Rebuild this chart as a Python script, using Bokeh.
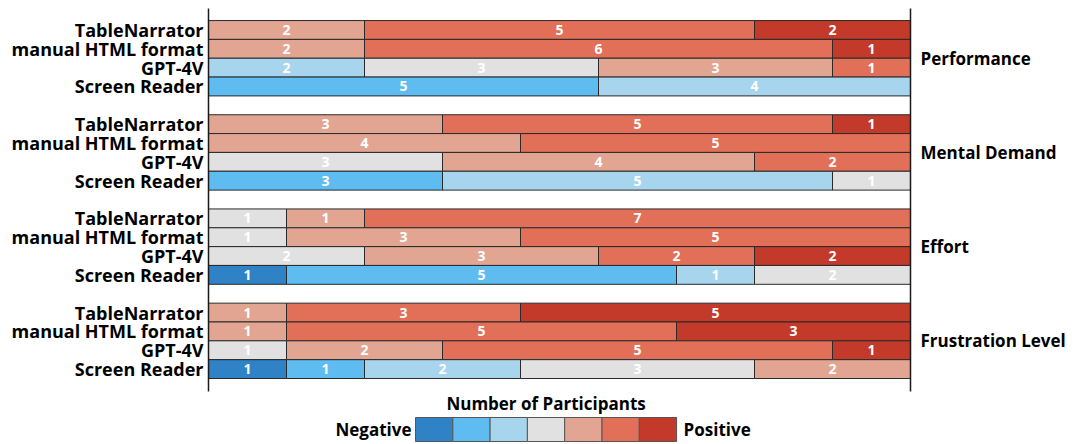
from bokeh.plotting import figure
from bokeh.models import Range1d, FixedTicker, LinearAxis, ColumnDataSource
from bokeh.layouts import column
from bokeh.core.properties import value
from bokeh.embed import file_html
from bokeh.resources import INLINE

methods = ["TableNarrator", "manual HTML format", "GPT-4V", "Screen Reader"]
metrics = ["Performance", "Mental Demand", "Effort", "Frustration Level"]
palette = ["#2e82c5", "#5ebcf0", "#a8d5ee", "#e1e1e1", "#e2a592", "#e26f58", "#c3392a"]

# counts per Likert level (negative -> positive), rows in methods order
performance = [[0, 0, 0, 0, 2, 5, 2],
               [0, 0, 0, 0, 2, 6, 1],
               [0, 0, 2, 3, 3, 1, 0],
               [0, 5, 4, 0, 0, 0, 0]]
mental_demand = [[0, 0, 0, 0, 3, 5, 1],
                 [0, 0, 0, 0, 4, 5, 0],
                 [0, 0, 0, 3, 4, 2, 0],
                 [0, 3, 5, 1, 0, 0, 0]]
effort = [[0, 0, 0, 1, 1, 7, 0],
          [0, 0, 0, 1, 3, 5, 0],
          [0, 0, 0, 2, 3, 2, 2],
          [1, 5, 1, 2, 0, 0, 0]]
frustration = [[0, 0, 0, 0, 1, 3, 5],
               [0, 0, 0, 0, 1, 5, 3],
               [0, 0, 0, 1, 2, 5, 1],
               [1, 1, 2, 3, 2, 0, 0]]

all_metrics = [performance, mental_demand, effort, frustration]

FONT = "Open Sans"
W = 1073
LB, RB = 208, 163          # frame from x=208 to x=910

ys, lefts, rights, mids, colors, labels = [], [], [], [], [], []
row_ticks, row_names = [], []
group_ticks = []
for g, data in enumerate(all_metrics):
    group_ticks.append(-(g * 5 + 1.5))
    for r, vals in enumerate(data):
        y = -(g * 5 + r)
        row_ticks.append(y)
        row_names.append(methods[r])
        cum = 0
        for lvl, c in enumerate(vals):
            if c > 0:
                ys.append(y)
                lefts.append(cum)
                rights.append(cum + c)
                mids.append(cum + c / 2)
                colors.append(palette[lvl])
                labels.append(str(c))
            cum += c

src = ColumnDataSource(dict(y=ys, left=lefts, right=rights, mid=mids, color=colors, label=labels))

p = figure(width=W, height=393, output_backend="svg", toolbar_location=None,
           x_range=Range1d(0, 9), y_range=Range1d(-19.19, 1.14),
           min_border_left=LB, min_border_right=RB, min_border_top=8, min_border_bottom=2)
p.outline_line_color = None
p.xgrid.visible = False
p.ygrid.visible = False
p.xaxis.visible = False

p.hbar(y="y", left="left", right="right", height=1.0, fill_color="color",
       line_color="#2a2a2a", line_width=1, source=src)
p.text(x="mid", y="y", text="label", text_color="white", text_align="center",
       text_baseline="middle", text_font=value(FONT), text_font_style="bold",
       text_font_size="14px", source=src)

def style_axis(ax, size):
    ax.axis_line_color = "#1a1a1a"
    ax.axis_line_width = 1.5
    ax.major_tick_line_color = None
    ax.minor_tick_line_color = None
    ax.major_tick_out = 0
    ax.major_tick_in = 0
    ax.minor_tick_out = 0
    ax.minor_tick_in = 0
    ax.major_label_text_font = FONT
    ax.major_label_text_font_style = "bold"
    ax.major_label_text_font_size = size
    ax.major_label_text_color = "black"

yax = p.yaxis[0]
yax.ticker = FixedTicker(ticks=row_ticks)
yax.major_label_overrides = {t: n for t, n in zip(row_ticks, row_names)}
yax.major_label_standoff = 5
style_axis(yax, "18px")

rax = LinearAxis(ticker=FixedTicker(ticks=group_ticks),
                 major_label_overrides={t: n for t, n in zip(group_ticks, metrics)})
rax.major_label_standoff = 10
style_axis(rax, "17px")
p.add_layout(rax, "right")

# legend figure (x in page pixels, frame aligned with the main plot)
LH = 51
lg = figure(width=W, height=LH, output_backend="svg", toolbar_location=None,
            x_range=Range1d(LB, W - RB), y_range=Range1d(LH, 0),
            min_border_left=LB, min_border_right=RB, min_border_top=0, min_border_bottom=0)
lg.outline_line_color = None
lg.axis.visible = False
lg.grid.visible = False
sw = 37.3
x0 = 415
lsrc = ColumnDataSource(dict(left=[x0 + sw * i for i in range(len(palette))],
                             right=[x0 + sw * (i + 1) for i in range(len(palette))],
                             color=palette))
lg.quad(left="left", right="right", top=24, bottom=48, fill_color="color",
        line_color="#555555", line_width=1, source=lsrc)
lg.text(x=[x0 + sw * 3.5], y=[10], text=["Number of Participants"], text_align="center",
        text_baseline="middle", text_font=value(FONT), text_font_style="bold",
        text_font_size="17px", text_color="black")
lg.text(x=[x0 - 4], y=[36], text=["Negative"], text_align="right",
        text_baseline="middle", text_font=value(FONT), text_font_style="bold",
        text_font_size="17px", text_color="black")
lg.text(x=[x0 + sw * 7 + 7], y=[36], text=["Positive"], text_align="left",
        text_baseline="middle", text_font=value(FONT), text_font_style="bold",
        text_font_size="17px", text_color="black")

layout = column(p, lg, spacing=0)
open("out.html", "w").write(file_html(layout, INLINE))
